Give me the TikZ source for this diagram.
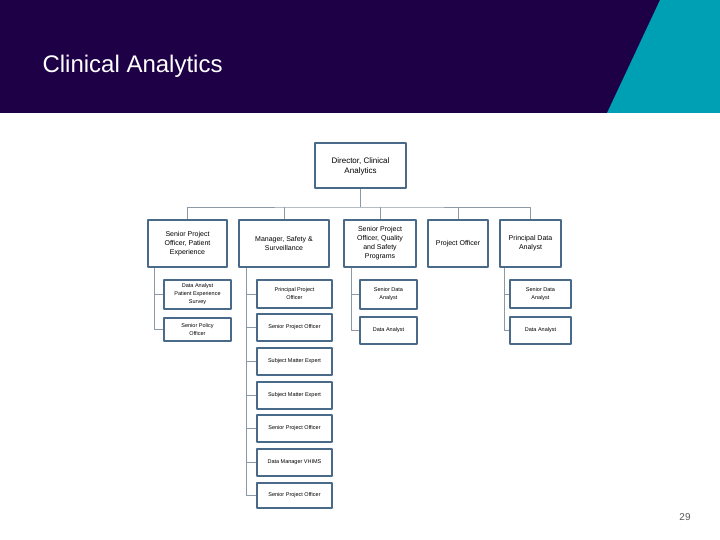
\documentclass[tikz,border=0pt]{standalone}
\usepackage{fontspec}
\setmainfont{Liberation Sans}
\definecolor{headpurple}{RGB}{30,0,70}
\definecolor{headteal}{RGB}{0,160,180}
\definecolor{boxblue}{RGB}{74,106,138}
\definecolor{linegray}{RGB}{140,152,166}
\begin{document}
\begin{tikzpicture}[x=1pt,y=-1pt,line join=round,
	box/.style={draw=boxblue,line width=2pt,fill=white,align=center,inner sep=0pt},
	top/.style={box,minimum width=91,minimum height=45,font=\fontsize{8}{10}\selectfont},
	lvl/.style={box,minimum height=47,font=\fontsize{7}{9}\selectfont},
	sub/.style={box,minimum height=27,font=\fontsize{5.5}{8}\selectfont},
	wire/.style={draw=linegray,line width=0.9pt}]
	\useasboundingbox (0,0) rectangle (720,540);
	% header band
	\fill[headpurple] (0,0) rectangle (720,113);
	\fill[headteal] (660,0) -- (720,0) -- (720,113) -- (607,113) -- cycle;
	\node[anchor=west,text=white,font=\fontsize{24}{28}\selectfont] (title) at (39,66) {Clinical Analytics};
	% director and first level
	\node[top] (dir) at (360.5,166) {Director, Clinical\\Analytics};
	\node[lvl,minimum width=79] (b1) at (187.5,243.5) {Senior Project\\Officer, Patient\\Experience};
	\node[lvl,minimum width=90] (b2) at (284,243.5) {Manager, Safety \&\\Surveillance};
	\node[lvl,minimum width=72] (b3) at (380,243.5) {Senior Project\\Officer, Quality\\and Safety\\Programs};
	\node[lvl,minimum width=60] (b4) at (458,243.5) {Project Officer};
	\node[lvl,minimum width=61] (b5) at (530.5,243.5) {Principal Data\\Analyst};
	% patient experience team
	\node[sub,minimum width=67,minimum height=29] (b1a) at (197.5,294.5) {Data Analyst\\Patient Experience\\Survey};
	\node[sub,minimum width=67,minimum height=23] (b1b) at (197.5,329.5) {Senior Policy\\Officer};
	% safety and surveillance team
	\node[sub,minimum width=75,minimum height=28] (b2a) at (294.5,294) {Principal Project\\Officer};
	\node[sub,minimum width=75] (b2b) at (294.5,327.5) {Senior Project Officer};
	\node[sub,minimum width=75] (b2c) at (294.5,361.5) {Subject Matter Expert};
	\node[sub,minimum width=75] (b2d) at (294.5,395) {Subject Matter Expert};
	\node[sub,minimum width=75] (b2e) at (294.5,428.5) {Senior Project Officer};
	\node[sub,minimum width=75] (b2f) at (294.5,462.5) {Data Manager VHIMS};
	\node[sub,minimum width=75,minimum height=25] (b2g) at (294.5,495) {Senior Project Officer};
	% quality and safety team
	\node[sub,minimum width=57,minimum height=29] (b3a) at (388.5,294.5) {Senior Data\\Analyst};
	\node[sub,minimum width=57] (b3b) at (388.5,330.5) {Data Analyst};
	% data analysis team
	\node[sub,minimum width=61,minimum height=28] (b5a) at (540.5,294) {Senior Data\\Analyst};
	\node[sub,minimum width=61] (b5b) at (540.5,330.5) {Data Analyst};
	% connectors
	\coordinate (bus) at (360,207);
	\path[wire] (dir.south) -- (dir.south |- bus);
	\path[wire] (b1.north) |- (bus) -| (b5.north);
	\foreach \b in {b2,b3,b4}
		\path[wire] (\b.north) -- (\b.north |- bus);
	\foreach \c in {b1a,b1b}
		\path[wire] ([xshift=7]b1.south west) |- (\c.west);
	\foreach \c in {b2a,b2b,b2c,b2d,b2e,b2f,b2g}
		\path[wire] ([xshift=8]b2.south west) |- (\c.west);
	\foreach \c in {b3a,b3b}
		\path[wire] ([xshift=8]b3.south west) |- (\c.west);
	\foreach \c in {b5a,b5b}
		\path[wire] ([xshift=5]b5.south west) |- (\c.west);
	% page number
	\node[text=black!65,font=\fontsize{10}{12}\selectfont] (page) at (685,517) {29};
\end{tikzpicture}
\end{document}
